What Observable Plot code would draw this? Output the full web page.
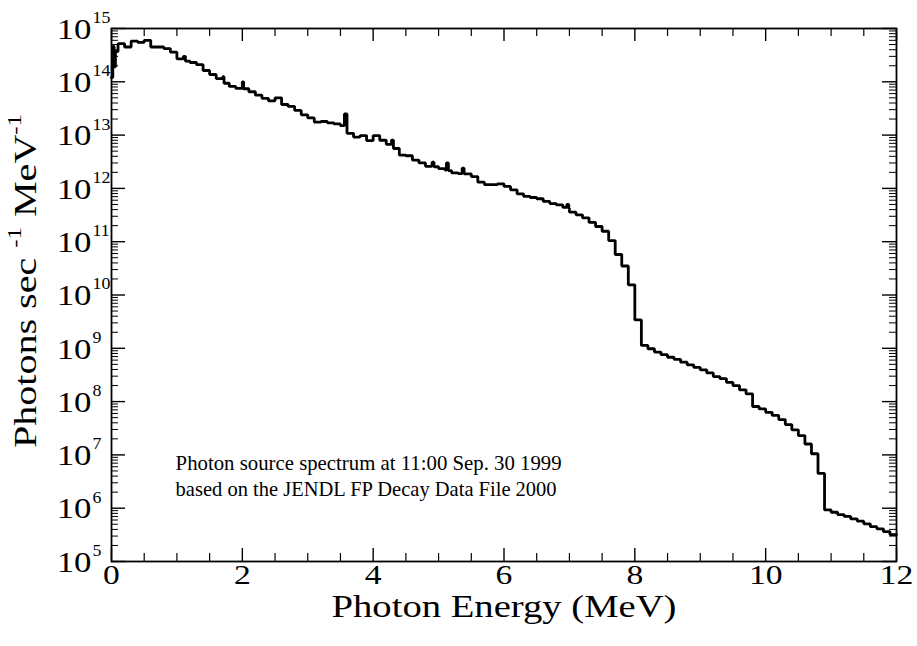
<!DOCTYPE html>
<html>
<head>
<meta charset="utf-8">
<script src="https://cdn.jsdelivr.net/npm/d3@7"></script>
<script src="https://cdn.jsdelivr.net/npm/@observablehq/plot@0.6"></script>
<style>
  html, body { margin: 0; padding: 0; background: #fff; }
  #chart svg { display: block; }
  #chart svg text { font-family: "Liberation Serif", "Times New Roman", Times, serif; }
</style>
</head>
<body>
<div id="chart"></div>
<script>
// ---- data: lower edge of each histogram bin (MeV) and photon intensity ----
const binStart = [
  0, 0.02, 0.04, 0.06, 0.1, 0.2, 0.3, 0.4, 0.5, 0.6,
  0.7, 0.8, 0.9, 1.0, 1.1, 1.13, 1.2, 1.3, 1.4, 1.5,
  1.6, 1.7, 1.72, 1.8, 1.9, 2.0, 2.02, 2.1, 2.2, 2.3,
  2.4, 2.5, 2.6, 2.7, 2.8, 2.9, 3.0, 3.1, 3.2, 3.3,
  3.4, 3.5, 3.56, 3.6, 3.7, 3.8, 3.9, 4.0, 4.1, 4.2,
  4.28, 4.31, 4.4, 4.5, 4.6, 4.7, 4.8, 4.9, 4.93, 5.0,
  5.1, 5.12, 5.15, 5.2, 5.3, 5.36, 5.39, 5.5, 5.6, 5.7,
  5.8, 5.9, 6.0, 6.1, 6.2, 6.3, 6.4, 6.5, 6.6, 6.7,
  6.8, 6.9, 6.96, 6.99, 7.0, 7.1, 7.2, 7.3, 7.4, 7.5,
  7.6, 7.7, 7.8, 7.9, 8.0, 8.1, 8.2, 8.3, 8.4, 8.5,
  8.6, 8.7, 8.8, 8.9, 9.0, 9.1, 9.2, 9.3, 9.4, 9.5,
  9.6, 9.7, 9.8, 9.9, 10.0, 10.1, 10.2, 10.3, 10.4, 10.5,
  10.6, 10.7, 10.8, 10.9, 11.0, 11.1, 11.2, 11.3, 11.4, 11.5,
  11.6, 11.7, 11.8, 11.9
];
const photons = [
  1.2e14, 4.6e14, 1.9e14, 3.7e14, 5.2e14, 4.5e14, 5.8e14, 5.5e14, 6.0e14, 4.5e14,
  4.5e14, 4.2e14, 3.6e14, 2.7e14, 3.0e14, 2.45e14, 2.3e14, 2.1e14, 1.63e14, 1.37e14,
  1.15e14, 1.25e14, 9.4e13, 8.2e13, 7.5e13, 1.0e14, 7.4e13, 6.5e13, 5.6e13, 4.9e13,
  4.4e13, 5.0e13, 3.75e13, 3.45e13, 2.9e13, 2.4e13, 2.1e13, 1.75e13, 1.8e13, 1.7e13,
  1.62e13, 1.5e13, 2.5e13, 1.08e13, 9.2e12, 9.8e12, 7.9e12, 9.8e12, 8.0e12, 6.7e12,
  8.0e12, 5.6e12, 4.2e12, 4.1e12, 3.4e12, 3.0e12, 2.6e12, 3.1e12, 2.55e12, 2.35e12,
  2.2e12, 3.0e12, 2.15e12, 1.95e12, 1.9e12, 2.4e12, 1.88e12, 1.67e12, 1.31e12, 1.18e12,
  1.18e12, 1.22e12, 1.09e12, 9.4e11, 7.9e11, 7.1e11, 6.75e11, 6.4e11, 5.7e11, 5.2e11,
  4.9e11, 4.4e11, 5.0e11, 4.2e11, 3.6e11, 3.2e11, 2.8e11, 2.3e11, 1.93e11, 1.57e11,
  1.05e11, 5.75e10, 3.5e10, 1.55e10, 3.4e9, 1.13e9, 9.8e8, 8.5e8, 7.6e8, 6.8e8,
  6.2e8, 5.5e8, 4.9e8, 4.4e8, 3.95e8, 3.45e8, 2.95e8, 2.7e8, 2.3e8, 2.0e8,
  1.66e8, 1.4e8, 8.1e7, 7.3e7, 6.3e7, 5.5e7, 4.6e7, 3.7e7, 2.95e7, 2.3e7,
  1.6e7, 1.05e7, 4.5e6, 9.3e5, 8.4e5, 7.6e5, 7.0e5, 6.3e5, 5.7e5, 5.1e5,
  4.5e5, 4.1e5, 3.65e5, 3.2e5
];
const lastEdge = 12;

// ---- axes / ticks / texts ----
const xDomain = [0, 12];
const yDomain = [1e5, 1e15];
const xMajorTicks = [0, 2, 4, 6, 8, 10, 12];
const xMinorTicks = [0.5, 1, 1.5, 2.5, 3, 3.5, 4.5, 5, 5.5, 6.5, 7, 7.5, 8.5, 9, 9.5, 10.5, 11, 11.5];
const yExponents = [5, 6, 7, 8, 9, 10, 11, 12, 13, 14, 15];
const yMinorMultipliers = [2, 3, 4, 5, 6, 7, 8, 9];
const xTitle = "Photon Energy (MeV)";
const yTitle = "Photons sec ^-1 MeV^-1";
const noteLines = [
  "Photon source spectrum at 11:00 Sep. 30 1999",
  "based on the JENDL FP Decay Data File 2000"
];
const noteStartEnergy = 0.98;

// ---- layout ----
const W = 917, H = 646;
const mL = 111, mR = 21, mT = 28, mB = 85;
const fw = W - mL - mR, fh = H - mT - mB;
const font = "Liberation Serif";

const data = binStart.map((e, i) => ({e, v: photons[i]}));
data.push({e: lastEdge, v: photons[photons.length - 1]});

const yMajor = yExponents.map(k => 10 ** k);
const yMinor = yExponents.slice(0, -1).flatMap(k => yMinorMultipliers.map(m => m * 10 ** k));

const txt = {fill: "black", fontFamily: font};

const chart = Plot.plot({
  width: W, height: H,
  marginLeft: mL, marginRight: mR, marginTop: mT, marginBottom: mB,
  style: {fontFamily: font, background: "white", color: "black"},
  x: {domain: xDomain, axis: null},
  y: {type: "log", domain: yDomain, axis: null},
  marks: [
    // inward ticks, bottom & top
    Plot.ruleX(xMajorTicks, {x: d => d, insetTop: fh - 13, stroke: "black", strokeWidth: 1.4}),
    Plot.ruleX(xMajorTicks, {x: d => d, insetBottom: fh - 13, stroke: "black", strokeWidth: 1.4}),
    Plot.ruleX(xMinorTicks, {x: d => d, insetTop: fh - 8, stroke: "black", strokeWidth: 1.2}),
    Plot.ruleX(xMinorTicks, {x: d => d, insetBottom: fh - 8, stroke: "black", strokeWidth: 1.2}),
    // inward ticks, left & right
    Plot.ruleY(yMajor, {y: d => d, insetRight: fw - 14, stroke: "black", strokeWidth: 1.4}),
    Plot.ruleY(yMajor, {y: d => d, insetLeft: fw - 14, stroke: "black", strokeWidth: 1.4}),
    Plot.ruleY(yMinor, {y: d => d, insetRight: fw - 7, stroke: "black", strokeWidth: 1}),
    Plot.ruleY(yMinor, {y: d => d, insetLeft: fw - 7, stroke: "black", strokeWidth: 1}),
    Plot.frame({stroke: "black", strokeWidth: 1.8}),
    // spectrum
    Plot.line(data, {x: "e", y: "v", curve: "step-after", stroke: "black", strokeWidth: 2.8, strokeLinejoin: "miter"}),
    // [text group 0] x tick labels
    Plot.text(xMajorTicks, {x: d => d, text: d => String(d), frameAnchor: "bottom", lineAnchor: "top", dy: 3, fontSize: 28, ...txt}),
    // [1] y tick labels "10"
    Plot.text(yMajor, {y: d => d, text: () => "10", frameAnchor: "left", textAnchor: "end", lineAnchor: "middle", dx: -20, dy: 1, fontSize: 29, ...txt}),
    // [2] exponents
    Plot.text(yExponents, {y: d => 10 ** d, text: d => String(d), frameAnchor: "left", textAnchor: "start", lineAnchor: "middle", dx: -19, dy: -11, fontSize: 17, ...txt}),
    // [3] x title
    Plot.text([xTitle], {text: d => d, frameAnchor: "bottom", lineAnchor: "middle", dy: 46, fontSize: 31, ...txt}),
    // [4] y title
    Plot.text([yTitle], {text: d => d, frameAnchor: "left", rotate: -90, textAnchor: "middle", lineAnchor: "middle", dx: -86, dy: -14, fontSize: 32, ...txt}),
    // [5], [6] note
    Plot.text([noteLines[0]], {x: () => noteStartEnergy, text: d => d, frameAnchor: "top", textAnchor: "start", lineAnchor: "middle", dy: 435, fontSize: 21, ...txt}),
    Plot.text([noteLines[1]], {x: () => noteStartEnergy, text: d => d, frameAnchor: "top", textAnchor: "start", lineAnchor: "middle", dy: 461, fontSize: 21, ...txt})
  ]
});

const groups = Array.from(chart.querySelectorAll('g[aria-label="text"]'));
const textsOf = i => groups[i] ? Array.from(groups[i].querySelectorAll("text")) : [];

// horizontal stretch for the wide tick-label lettering
function stretch(i, s) {
  textsOf(i).forEach(t => {
    t.setAttribute("transform", (t.getAttribute("transform") || "") + ` scale(${s},1)`);
  });
}
stretch(0, 1.2);
stretch(1, 1.2);
stretch(2, 1.05);

// superscripts written as ^xx
function superscripts(i) {
  textsOf(i).forEach(t => {
    const parts = t.textContent.split(/\^(\S+)/);
    t.textContent = "";
    parts.forEach((p, k) => {
      if (!p) return;
      const ts = document.createElementNS("http://www.w3.org/2000/svg", "tspan");
      ts.textContent = p;
      if (k % 2 === 1) {
        ts.setAttribute("font-size", "0.62em");
        ts.setAttribute("dy", "-0.75em");
      } else if (k > 0) {
        ts.setAttribute("dy", "0.47em");
      }
      t.appendChild(ts);
    });
  });
}
superscripts(4);

function fitWidth(i, len) {
  textsOf(i).forEach(t => {
    t.setAttribute("textLength", len);
    t.setAttribute("lengthAdjust", "spacingAndGlyphs");
  });
}
fitWidth(3, 345);
fitWidth(4, 334);
fitWidth(5, 386);
fitWidth(6, 381);

document.getElementById("chart").appendChild(chart);
</script>
</body>
</html>
